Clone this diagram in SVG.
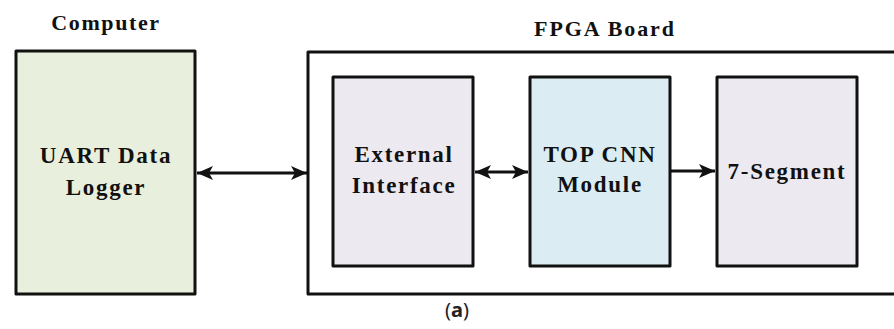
<svg xmlns="http://www.w3.org/2000/svg" width="894" height="329" viewBox="0 0 894 329">
  <style>
    .box { stroke: #111; stroke-width: 3; stroke-linejoin: round; }
    .wire { stroke: #111; stroke-width: 2.8; fill: none; }
    .lbl { font-family: "Liberation Serif", "Times New Roman", Times, "DejaVu Serif", serif; font-weight: 700; font-size: 23px; fill: #111; text-anchor: middle; letter-spacing: 1.7px; }
    .ttl { font-size: 22px; }
    .cap { font-family: "Noto Sans", "DejaVu Sans", sans-serif; font-size: 20px; fill: #222; text-anchor: middle; }
  </style>
  <defs>
    <marker id="head" viewBox="0 0 16 14" refX="16" refY="7" markerWidth="16" markerHeight="14" markerUnits="userSpaceOnUse" orient="auto-start-reverse">
      <path d="M0,0 L16,7 L0,14 L4,7 Z" fill="#111"/>
    </marker>
  </defs>
  <rect width="894" height="329" fill="#fff"/>

  <g id="computer">
    <text class="lbl ttl" x="106" y="30" style="letter-spacing:1.6px">Computer</text>
    <rect class="box" x="16" y="51" width="179" height="243" fill="#E9EFDD"/>
    <text class="lbl" x="106" y="163">UART Data</text>
    <text class="lbl" x="106" y="195">Logger</text>
  </g>

  <g id="fpga-board">
    <text class="lbl ttl" x="605" y="36" style="letter-spacing:1.9px">FPGA Board</text>
    <rect class="box" x="308" y="52" width="600" height="242" fill="#fff"/>
  </g>

  <g id="external-interface">
    <rect class="box" x="333" y="77" width="140" height="189" fill="#ECE9F1"/>
    <text class="lbl" x="404" y="162">External</text>
    <text class="lbl" x="404" y="193">Interface</text>
  </g>

  <g id="top-cnn">
    <rect class="box" x="530" y="77" width="140" height="189" fill="#DBEDF3"/>
    <text class="lbl" x="600" y="162">TOP CNN</text>
    <text class="lbl" x="600" y="192">Module</text>
  </g>

  <g id="seven-segment">
    <rect class="box" x="717" y="77" width="140" height="189" fill="#ECE9F1"/>
    <text class="lbl" x="787" y="179">7-Segment</text>
  </g>

  <g id="connectors">
    <line class="wire" x1="197" y1="173" x2="307" y2="173" marker-start="url(#head)" marker-end="url(#head)"/>
    <line class="wire" x1="475" y1="172" x2="528" y2="172" marker-start="url(#head)" marker-end="url(#head)"/>
    <line class="wire" x1="671" y1="171" x2="715" y2="171" marker-end="url(#head)"/>
  </g>

  <text class="cap" x="457" y="317">(<tspan font-weight="bold">a</tspan>)</text>
</svg>
